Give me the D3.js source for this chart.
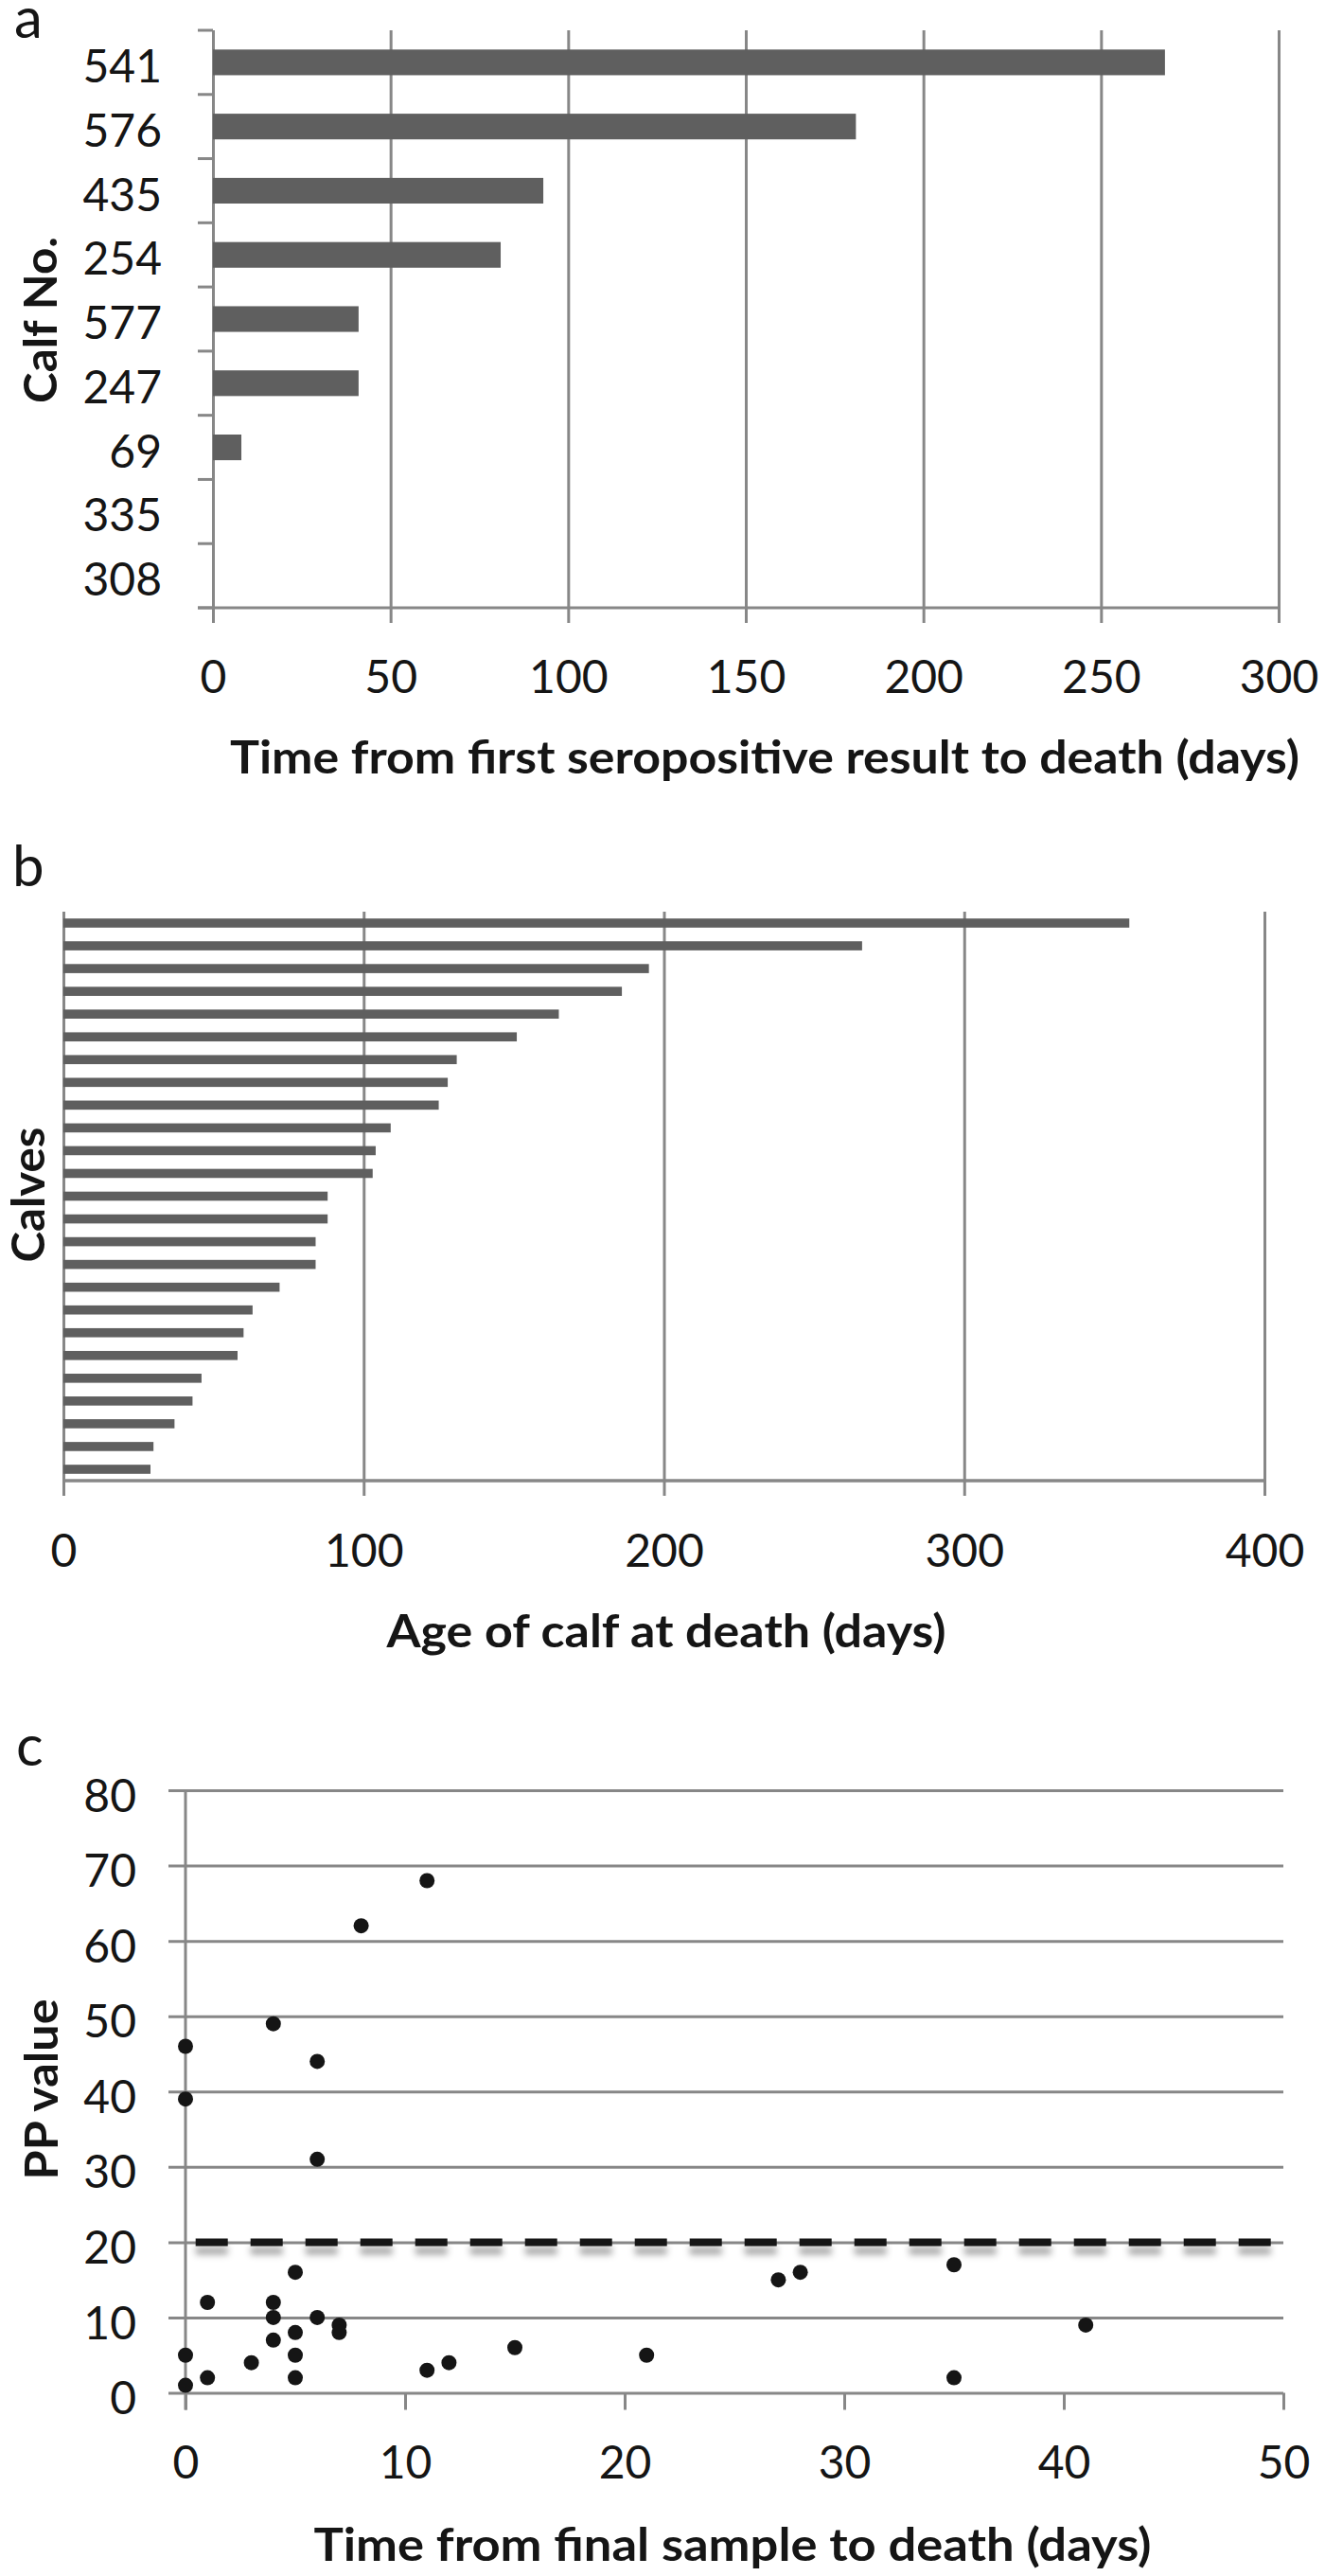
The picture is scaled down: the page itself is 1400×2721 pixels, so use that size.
<!DOCTYPE html>
<meta charset="utf-8">
<style>
	body { margin: 0; background: #fff; }
	svg { display: block; font-family: Lato, "Open Sans", sans-serif; }
</style>
<body>
<svg width="1400" height="2721"></svg>
<script src="https://cdnjs.cloudflare.com/ajax/libs/d3/7.8.5/d3.min.js"></script>
<script>
	// panel a
	var calfNo = ["541", "576", "435", "254", "577", "247", "69", "335", "308"];
	var seroDays = [268, 181, 93, 81, 41, 41, 8, 0, 0];
	var seroTicks = [0, 50, 100, 150, 200, 250, 300];

	// panel b
	var calfAge = [355, 266, 195, 186, 165, 151, 131, 128, 125, 109, 104, 103, 88, 88, 84, 84, 72, 63, 60, 58, 46, 43, 37, 30, 29];
	var ageTicks = [0, 100, 200, 300, 400];

	// panel c
	var finalDays = [0, 0, 4, 6, 8, 11, 6, 5, 1, 4, 4, 6, 7, 7, 5, 4, 0, 3, 5, 1, 5, 0, 11, 12, 15, 21, 27, 28, 35, 35, 41];
	var ppValue  = [46, 39, 49, 44, 62, 68, 31, 16, 12, 12, 10, 10, 9, 8, 8, 7, 5, 4, 5, 2, 2, 1, 3, 4, 6, 5, 15, 16, 17, 2, 9];
	var ppTicks = [0, 10, 20, 30, 40, 50, 60, 70, 80];
	var dayTicks = [0, 10, 20, 30, 40, 50];
	var cutoff = 20;

	var gridColor = "#878787";
	var barColor = "#5f5f5f";
	var ink = "#151515";

	var svg = d3.select("svg");

	// a flat line has no height, so the shadow filter needs user space units
	svg.append("defs").append("filter")
		.attr("id", "shadow")
		.attr("filterUnits", "userSpaceOnUse")
		.attr("x", 0).attr("y", 0).attr("width", 1400).attr("height", 2721)
		.append("feDropShadow")
		.attr("dx", 0).attr("dy", 9).attr("stdDeviation", 3.5)
		.attr("flood-color", "#000").attr("flood-opacity", 0.35);

	function styleAxis(g, size) {
		g.attr("font-family", null).attr("font-size", size || 48);
		g.select(".domain").remove();
		g.selectAll("line").attr("stroke", gridColor).attr("stroke-width", 3);
		g.selectAll("text").attr("fill", ink);
	}

	function title(x, y, len, txt, rotate) {
		svg.append("text")
			.attr("transform", "translate(" + x + "," + y + ")" + (rotate ? " rotate(-90)" : ""))
			.attr("text-anchor", "middle")
			.attr("font-size", 48)
			.attr("font-weight", "bold")
			.attr("fill", ink)
			.attr("textLength", len)
			.attr("lengthAdjust", "spacingAndGlyphs")
			.text(txt);
	}

	function letter(x, y, txt) {
		svg.append("text").attr("x", x).attr("y", y)
			.attr("font-size", 60).attr("fill", ink).text(txt);
	}

	/* ---------- a ---------- */
	var xa = d3.scaleLinear().domain([0, 300]).range([225, 1351]);
	var ya = d3.scaleBand().domain(calfNo).range([32, 642]).paddingInner(0.6).paddingOuter(0.3);

	svg.append("g")
		.attr("transform", "translate(0,32)")
		.call(d3.axisTop(xa).tickValues(seroTicks).tickSize(-(658 - 32)).tickFormat(""))
		.call(styleAxis);

	svg.append("g")
		.attr("transform", "translate(0,642)")
		.call(d3.axisBottom(xa).tickValues(seroTicks).tickSize(0))
		.call(styleAxis)
		.selectAll("text").attr("y", 90).attr("dy", 0);

	svg.append("line")
		.attr("x1", xa(0) - 16).attr("x2", xa(300))
		.attr("y1", ya.range()[1]).attr("y2", ya.range()[1])
		.attr("stroke", gridColor).attr("stroke-width", 3);

	svg.append("g").selectAll("line")
		.data(d3.range(calfNo.length + 1))
		.enter().append("line")
		.attr("x1", xa(0) - 16).attr("x2", xa(0))
		.attr("y1", function (i) { return ya.range()[0] + i * ya.step(); })
		.attr("y2", function (i) { return ya.range()[0] + i * ya.step(); })
		.attr("stroke", gridColor).attr("stroke-width", 3);

	svg.append("g")
		.attr("transform", "translate(" + xa(0) + ",0)")
		.call(d3.axisLeft(ya).tickSize(0).tickPadding(54))
		.call(styleAxis)
		.selectAll("text").attr("dy", "0.44em");

	svg.append("g").selectAll("rect")
		.data(seroDays)
		.enter().append("rect")
		.attr("x", xa(0))
		.attr("y", function (d, i) { return ya(calfNo[i]); })
		.attr("width", function (d) { return xa(d) - xa(0); })
		.attr("height", ya.bandwidth())
		.attr("fill", barColor);

	letter(15, 40, "a");
	title(808, 817, 1130, "Time from first seropositive result to death (days)");
	title(60, 338, 176, "Calf No.", true);

	/* ---------- b ---------- */
	var xb = d3.scaleLinear().domain([0, 400]).range([67, 1336]);
	var yb = d3.scaleBand().domain(d3.range(calfAge.length)).range([963, 1564]).paddingInner(0.6).paddingOuter(0.3);

	svg.append("g")
		.attr("transform", "translate(0,963)")
		.call(d3.axisTop(xb).tickValues(ageTicks).tickSize(-(1580 - 963)).tickFormat(""))
		.call(styleAxis);

	svg.append("g")
		.attr("transform", "translate(0,1564)")
		.call(d3.axisBottom(xb).tickValues(ageTicks).tickSize(0))
		.call(styleAxis)
		.selectAll("text").attr("y", 91).attr("dy", 0);

	svg.append("line")
		.attr("x1", xb(0)).attr("x2", xb(400))
		.attr("y1", yb.range()[1]).attr("y2", yb.range()[1])
		.attr("stroke", gridColor).attr("stroke-width", 3.5);

	svg.append("g").selectAll("rect")
		.data(calfAge)
		.enter().append("rect")
		.attr("x", xb(0))
		.attr("y", function (d, i) { return yb(i); })
		.attr("width", function (d) { return xb(d) - xb(0); })
		.attr("height", yb.bandwidth())
		.attr("fill", barColor);

	letter(13, 936, "b");
	title(704, 1740, 591, "Age of calf at death (days)");
	title(47, 1262, 143, "Calves", true);

	/* ---------- c ---------- */
	var xc = d3.scaleLinear().domain([0, 50]).range([196, 1356]);
	var yc = d3.scaleLinear().domain([0, 80]).range([2527.5, 1891]);

	svg.append("g")
		.attr("transform", "translate(178,0)")
		.call(d3.axisLeft(yc).tickValues(ppTicks).tickSize(-(xc(50) - 178)).tickPadding(34))
		.call(styleAxis)
		.selectAll("text").attr("dy", "0.46em");

	svg.append("line")
		.attr("x1", xc(0)).attr("x2", xc(0))
		.attr("y1", yc(80)).attr("y2", yc(0) + 18)
		.attr("stroke", gridColor).attr("stroke-width", 3);

	svg.append("g")
		.attr("transform", "translate(0," + yc(0) + ")")
		.call(d3.axisBottom(xc).tickValues(dayTicks).tickSize(18))
		.call(styleAxis)
		.selectAll("text").attr("y", 90.5).attr("dy", 0);

	svg.append("path")
		.datum([[0, cutoff], [50, cutoff]])
		.attr("d", d3.line().x(function (d) { return xc(d[0]); }).y(function (d) { return yc(d[1]); }))
		.attr("fill", "none")
		.attr("stroke", ink)
		.attr("stroke-width", 8)
		.attr("stroke-dasharray", "34 24")
		.attr("stroke-dashoffset", 47.3)
		.attr("filter", "url(#shadow)");

	svg.append("g").selectAll("circle")
		.data(ppValue)
		.enter().append("circle")
		.attr("cx", function (d, i) { return xc(finalDays[i]); })
		.attr("cy", function (d) { return yc(d); })
		.attr("r", 8)
		.attr("fill", ink);

	letter(17, 1865, "c");
	title(774, 2705, 885, "Time from final sample to death (days)");
	title(61, 2207, 191, "PP value", true);
</script>
</body>
